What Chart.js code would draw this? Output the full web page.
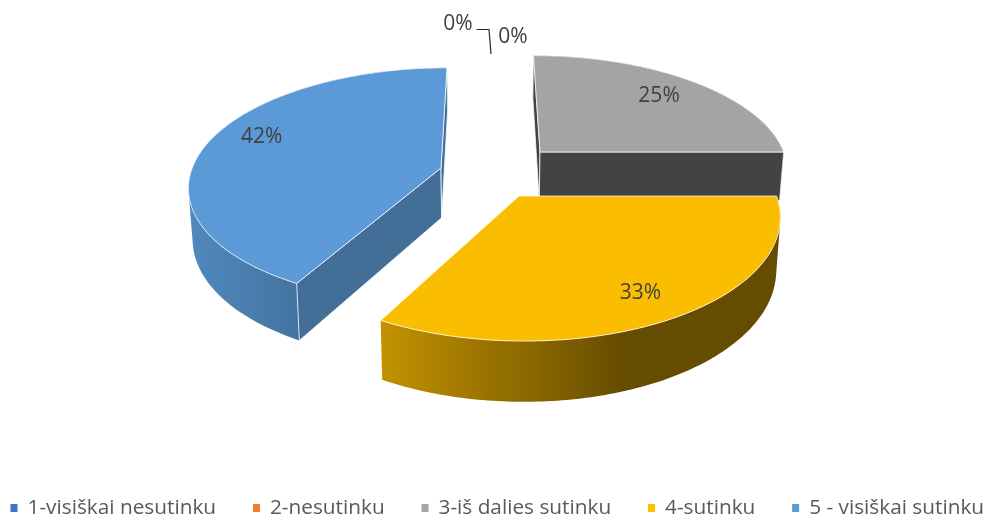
<!DOCTYPE html>
<html>
<head>
<meta charset="utf-8">
<style>html,body{margin:0;padding:0;background:#fff}canvas{display:block}</style>
<script src="https://cdn.jsdelivr.net/npm/chart.js@4"></script>
</head>
<body>
<canvas id="c" width="987" height="519"></canvas>
<script>
const categories = ['1-visiškai nesutinku', '2-nesutinku', '3-iš dalies sutinku', '4-sutinku', '5 - visiškai sutinku'];
const shares = [0, 0, 25, 33, 42];
const legendColors = ['#4472C4', '#ED7D31', '#A5A5A5', '#FFC000', '#5B9BD5'];

// Look of the 3-D pie
const topColors = [null, null, '#A4A4A4', '#FBBD00', '#5B9AD6'];
const wallColors = [null, null, '#434343', '#8A6700', '#426E98'];
const sideStops = [null, null,
  [[0, '#434343'], [1, '#434343']],
  [[381, '#C29200'], [625, '#664C00']],
  [[190, '#5089BF'], [300, '#44749F']]];
const explode = [null, null, [0.2134, -0.1769], [0.1203, 0.2008], [-0.189, -0.0347]];
const labelNudge = [null, null, [-6, 2], [-1, 1.5], [9, -9]];
const view = {xc: 488, y0: 172, sx: 250, sy: 116, k: 0.1468, depth: 50, taper: 0.014, labelR: 0.81};
const labelFont = '21px "Open Sans"';
const legendFont = '20.8px "Open Sans"';

function project(u, v, low) {
  const w = 1 - view.k * v;
  const sink = low ? 1 - view.taper : 1;
  return [view.xc + view.sx * u / w * sink, view.y0 + (view.sy * v + (low ? view.depth : 0)) / w];
}
function rimPoints(shift, a0, a1, low) {
  const pts = [];
  const n = Math.max(8, Math.ceil((a1 - a0) * 60));
  for (let i = 0; i <= n; i++) {
    const a = a0 + (a1 - a0) * i / n;
    pts.push(project(shift[0] + Math.cos(a), shift[1] + Math.sin(a), low));
  }
  return pts;
}
function addPoly(ctx, pts) {
  pts.forEach((p, i) => i ? ctx.lineTo(p[0], p[1]) : ctx.moveTo(p[0], p[1]));
  ctx.closePath();
}
function fillPoly(ctx, pts, fill) {
  ctx.beginPath();
  addPoly(ctx, pts);
  ctx.fillStyle = fill;
  ctx.fill();
  ctx.lineWidth = 1;
  ctx.lineJoin = 'round';
  ctx.strokeStyle = 'rgba(255,255,255,0.75)';
  ctx.stroke();
}
function signedArea(pts) {
  let s = 0;
  pts.forEach((p, i) => { const q = pts[(i + 1) % pts.length]; s += p[0] * q[1] - q[0] * p[1]; });
  return s;
}

const pie3d = {
  id: 'pie3d',
  beforeDatasetDraw(chart) {
    const ctx = chart.ctx;
    const arcs = chart.getDatasetMeta(0).data;
    const order = shares.map((s, i) => i).filter(i => shares[i] > 0)
      .sort((a, b) => explode[a][1] - explode[b][1]);
    order.forEach(i => {
      const a0 = arcs[i].startAngle, a1 = arcs[i].endAngle, sh = explode[i];
      const top = rimPoints(sh, a0, a1, false);
      const low = rimPoints(sh, a0, a1, true);
      const hub = project(sh[0], sh[1], false), hubLow = project(sh[0], sh[1], true);
      // curved side: one path of equally wound quads, filled once
      const xs = sideStops[i];
      const g = ctx.createLinearGradient(xs[0][0], 0, xs[1][0], 0);
      g.addColorStop(0, xs[0][1]);
      g.addColorStop(1, xs[1][1]);
      ctx.beginPath();
      for (let s = 0; s < top.length - 1; s++) {
        const q = [top[s], top[s + 1], low[s + 1], low[s]];
        addPoly(ctx, signedArea(q) > 0 ? q : q.reverse());
      }
      ctx.fillStyle = g;
      ctx.fill('nonzero');
      // cut walls facing the viewer
      const startWall = [hub, top[0], low[0], hubLow];
      const endWall = [top[top.length - 1], hub, hubLow, low[low.length - 1]];
      [startWall, endWall].forEach(q => { if (signedArea(q) < 0) fillPoly(ctx, q, wallColors[i]); });
      // top
      fillPoly(ctx, [hub].concat(top), topColors[i]);
    });
    // value labels
    ctx.font = labelFont;
    ctx.textAlign = 'center';
    ctx.textBaseline = 'middle';
    ctx.fillStyle = '#404040';
    order.forEach(i => {
      const mid = (arcs[i].startAngle + arcs[i].endAngle) / 2, sh = explode[i];
      const p = project(sh[0] + view.labelR * Math.cos(mid), sh[1] + view.labelR * Math.sin(mid), false);
      ctx.fillText(shares[i] + '%', p[0] + labelNudge[i][0], p[1] + labelNudge[i][1]);
    });
    // the two empty slices
    ctx.fillText(shares[0] + '%', 458, 24);
    ctx.fillText(shares[1] + '%', 513, 37);
    ctx.beginPath();
    ctx.moveTo(476.5, 29.5); ctx.lineTo(489, 29.5); ctx.lineTo(491, 54);
    ctx.strokeStyle = '#262626';
    ctx.lineWidth = 1.2;
    ctx.stroke();
    // legend
    ctx.font = legendFont;
    ctx.textAlign = 'left';
    let x = 10.5;
    categories.forEach((name, i) => {
      ctx.fillStyle = legendColors[i];
      ctx.fillRect(x, 504, 7, 8);
      ctx.fillStyle = '#595959';
      ctx.fillText(name, x + 17, 508.5);
      x += 17 + ctx.measureText(name).width + 36.8;
    });
    return false;
  }
};

new Chart(document.getElementById('c'), {
  type: 'pie',
  data: {labels: categories, datasets: [{data: shares, backgroundColor: legendColors, borderWidth: 0}]},
  options: {
    responsive: false,
    animation: false,
    rotation: 0,
    plugins: {legend: {display: false}, tooltip: {enabled: false}}
  },
  plugins: [pie3d]
});
</script>
</body>
</html>
